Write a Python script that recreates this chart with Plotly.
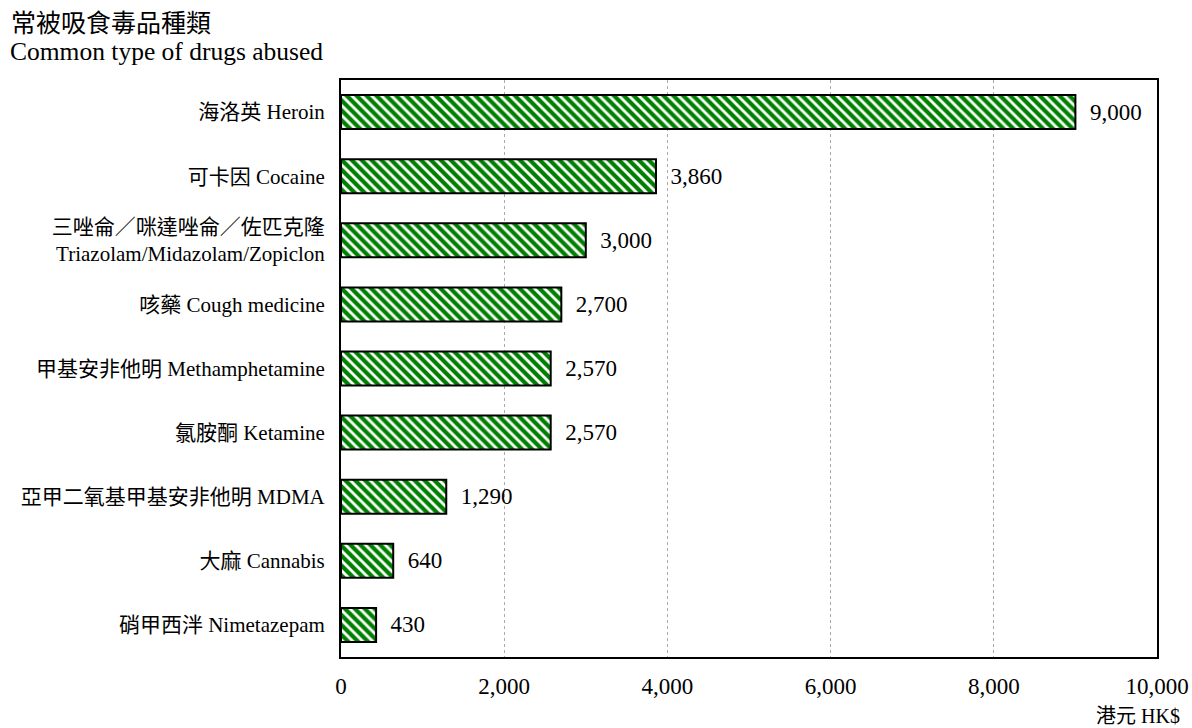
import plotly.graph_objects as go

categories = [
    "海洛英 Heroin",
    "可卡因 Cocaine",
    "三唑侖／咪達唑侖／佐匹克隆<br>Triazolam/Midazolam/Zopiclon",
    "咳藥 Cough medicine",
    "甲基安非他明 Methamphetamine",
    "氯胺酮 Ketamine",
    "亞甲二氧基甲基安非他明 MDMA",
    "大麻 Cannabis",
    "硝甲西泮 Nimetazepam",
]
values = [9000, 3860, 3000, 2700, 2570, 2570, 1290, 640, 430]
tick_vals = [0, 2000, 4000, 6000, 8000, 10000]
tick_text = ["0", "2,000", "4,000", "6,000", "8,000", "10,000"]

FONT = "Liberation Serif, Times New Roman, Noto Sans CJK TC, serif"
NB = "\u00a0"

fig = go.Figure(go.Bar(
    y=categories,
    x=values,
    orientation="h",
    text=[f"{NB}{NB}{v:,}" for v in values],
    textposition="outside",
    textfont=dict(size=23, color="black", family=FONT),
    cliponaxis=False,
    marker=dict(
        color="white",
        line=dict(color="black", width=2),
        pattern=dict(shape="\\", fgcolor="#008000", bgcolor="white", fgopacity=1,
                     size=7, solidity=0.6, fillmode="replace"),
    ),
))

fig.update_layout(
    width=1192, height=728,
    margin=dict(l=341, r=35, t=80, b=71, autoexpand=False),
    paper_bgcolor="white", plot_bgcolor="white",
    font=dict(family=FONT, color="black"),
    bargap=0.47,
    showlegend=False,
    xaxis=dict(
        range=[0, 10000], tickvals=tick_vals, ticktext=tick_text,
        tickfont=dict(size=23, family=FONT),
        showgrid=True, gridcolor="#aaaaaa", griddash="dot", gridwidth=1,
        showline=True, linecolor="black", linewidth=2, mirror=True,
        ticks="", zeroline=False, ticklabelstandoff=7, automargin=False,
    ),
    yaxis=dict(
        autorange="reversed",
        tickfont=dict(size=21, family=FONT),
        showline=True, linecolor="black", linewidth=2, mirror=True,
        ticks="", ticklabelstandoff=10, automargin=False,
    ),
    annotations=[
        dict(text="常被吸食毒品種類", x=(9 - 341) / 816, y=(657 - 24) / 577, xref="paper", yref="paper",
             xanchor="left", yanchor="middle", showarrow=False,
             font=dict(size=25, family=FONT)),
        dict(text="Common type of drugs abused", x=(8 - 341) / 816, y=(657 - 52) / 577, xref="paper", yref="paper",
             xanchor="left", yanchor="middle", showarrow=False,
             font=dict(size=25.5, family=FONT)),
        dict(text="港元 HK$", x=(1182 - 341) / 816, y=(657 - 716) / 577, xref="paper", yref="paper",
             xanchor="right", yanchor="middle", showarrow=False,
             font=dict(size=20, family=FONT)),
    ],
)

fig.write_html("out.html")
